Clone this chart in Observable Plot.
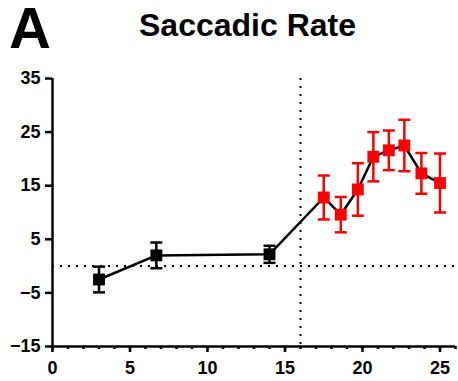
<!DOCTYPE html>
<html>
<head>
<meta charset="utf-8">
<script src="https://cdn.jsdelivr.net/npm/d3@7"></script>
<script src="https://cdn.jsdelivr.net/npm/@observablehq/plot@0.6"></script>
<style>
  html, body { margin: 0; padding: 0; background: #fff; }
  #wrap { width: 458px; font-family: "Liberation Sans", Arial, sans-serif; }
  #head { position: relative; height: 60px; }
  #panel { position: absolute; left: 9px; top: 5px; font-size: 58px; font-weight: bold; line-height: 0.8; }
  #title { position: absolute; left: 0; width: 495px; top: 9px; text-align: center; font-size: 32px; font-weight: bold; line-height: 1; }
</style>
</head>
<body>
<div id="wrap">
  <div id="head"><div id="panel">A</div><div id="title">Saccadic Rate</div></div>
  <div id="chart"></div>
</div>
<script>
const time  = [3, 6.7, 14, 17.5, 18.6, 19.7, 20.7, 21.7, 22.7, 23.8, 25];
const rate  = [-2.5, 2.0, 2.2, 12.8, 9.6, 14.3, 20.4, 21.6, 22.5, 17.3, 15.5];
const err   = [2.4, 2.4, 1.6, 4.1, 3.3, 4.9, 4.6, 3.7, 4.8, 3.8, 5.5];
const phase = ["pre", "pre", "pre", "post", "post", "post", "post", "post", "post", "post", "post"];
const yTicks = [-15, -5, 5, 15, 25, 35];
const xTicks = [0, 5, 10, 15, 20, 25];
const xMinor = d3.range(0, 27);
const refX = 16, refY = 0;

const data = time.map((t, i) => ({t, m: rate[i], e: err[i], p: phase[i]}));
const colorOf = p => p === "pre" ? "#000000" : "#ff0000";

const capSymbol = {
  draw(ctx, size) {
    const r = Math.sqrt(size / Math.PI);
    ctx.moveTo(-r, 0); ctx.lineTo(r, 0);
  }
};

const font = {fontSize: 18, fontWeight: "bold", fill: "#000"};

const chart = Plot.plot({
  width: 458, height: 321,
  marginLeft: 52, marginRight: 3, marginTop: 18, marginBottom: 35,
  style: {fontFamily: "Liberation Sans, Arial, sans-serif", background: "#fff", overflow: "visible"},
  x: {domain: [0, 26], label: null},
  y: {domain: [-15, 35], label: null},
  marks: [
    Plot.ruleY([refY], {stroke: "#000", strokeWidth: 2, strokeDasharray: "2 6"}),
    Plot.ruleX([refX], {stroke: "#000", strokeWidth: 2, strokeDasharray: "2 6"}),
    Plot.axisX({ticks: xMinor, tickSize: 3, tickFormat: () => "", strokeWidth: 2.5, label: null}),
    Plot.axisX({ticks: xTicks, tickSize: 6, tickPadding: 9, strokeWidth: 2.5, label: null, ...font}),
    Plot.axisY({ticks: yTicks, tickSize: 7, tickPadding: 5, strokeWidth: 2.5, label: null, ...font}),
    Plot.ruleX([0], {stroke: "#000", strokeWidth: 2.5}),
    Plot.ruleY([-15], {stroke: "#000", strokeWidth: 2.5}),
    Plot.line(data, {x: "t", y: "m", stroke: "#000", strokeWidth: 2.5}),
    Plot.ruleX(data, {x: "t", y1: d => d.m - d.e, y2: d => d.m + d.e, stroke: d => colorOf(d.p), strokeWidth: 2.5}),
    Plot.dot(data, {x: "t", y: d => d.m + d.e, symbol: capSymbol, r: 6, stroke: d => colorOf(d.p), strokeWidth: 2.5, fill: "none"}),
    Plot.dot(data, {x: "t", y: d => d.m - d.e, symbol: capSymbol, r: 6, stroke: d => colorOf(d.p), strokeWidth: 2.5, fill: "none"}),
    Plot.dot(data, {x: "t", y: "m", symbol: "square", r: 6.7, fill: d => colorOf(d.p), stroke: "none"})
  ]
});
document.getElementById("chart").appendChild(chart);
</script>
</body>
</html>
